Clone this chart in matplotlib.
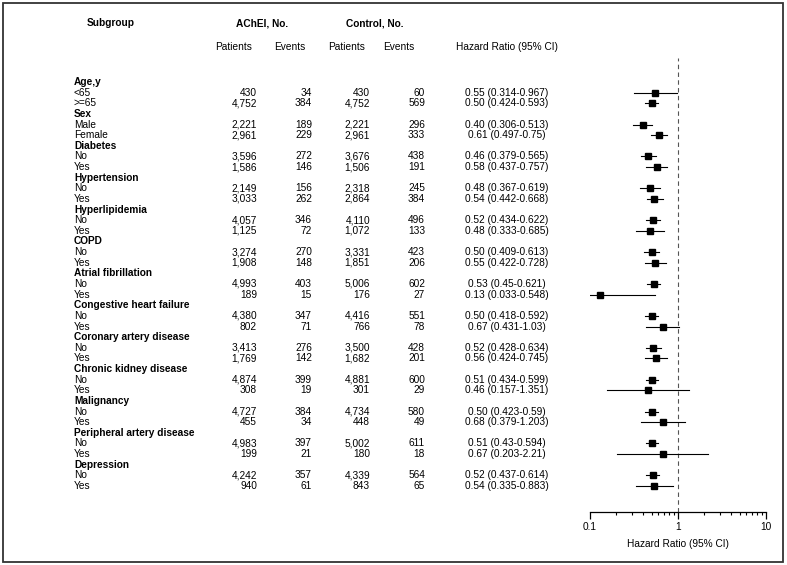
import matplotlib
matplotlib.use('Agg')
import matplotlib.pyplot as plt
from matplotlib.patches import Rectangle
from matplotlib.transforms import blended_transform_factory
from matplotlib.ticker import FixedLocator, LogLocator, NullFormatter

plt.rcParams['font.family'] = ['Liberation Sans', 'DejaVu Sans']

groups = ['Age,y', 'Sex', 'Diabetes', 'Hypertension', 'Hyperlipidemia', 'COPD',
          'Atrial fibrillation', 'Congestive heart failure', 'Coronary artery disease',
          'Chronic kidney disease', 'Malignancy', 'Peripheral artery disease', 'Depression']
levels = [['<65', '>=65'], ['Male', 'Female']] + [['No', 'Yes']] * 11

achei_pat = [430, 4752, 2221, 2961, 3596, 1586, 2149, 3033, 4057, 1125, 3274, 1908, 4993,
             189, 4380, 802, 3413, 1769, 4874, 308, 4727, 455, 4983, 199, 4242, 940]
achei_evt = [34, 384, 189, 229, 272, 146, 156, 262, 346, 72, 270, 148, 403,
             15, 347, 71, 276, 142, 399, 19, 384, 34, 397, 21, 357, 61]
ctrl_pat = [430, 4752, 2221, 2961, 3676, 1506, 2318, 2864, 4110, 1072, 3331, 1851, 5006,
            176, 4416, 766, 3500, 1682, 4881, 301, 4734, 448, 5002, 180, 4339, 843]
ctrl_evt = [60, 569, 296, 333, 438, 191, 245, 384, 496, 133, 423, 206, 602,
            27, 551, 78, 428, 201, 600, 29, 580, 49, 611, 18, 564, 65]
hr = [0.55, 0.50, 0.40, 0.61, 0.46, 0.58, 0.48, 0.54, 0.52, 0.48, 0.50, 0.55, 0.53,
      0.13, 0.50, 0.67, 0.52, 0.56, 0.51, 0.46, 0.50, 0.68, 0.51, 0.67, 0.52, 0.54]
ci_lo = [0.314, 0.424, 0.306, 0.497, 0.379, 0.437, 0.367, 0.442, 0.434, 0.333, 0.409, 0.422, 0.45,
         0.033, 0.418, 0.431, 0.428, 0.424, 0.434, 0.157, 0.423, 0.379, 0.43, 0.203, 0.437, 0.335]
ci_hi = [0.967, 0.593, 0.513, 0.75, 0.565, 0.757, 0.619, 0.668, 0.622, 0.685, 0.613, 0.728, 0.621,
         0.548, 0.592, 1.03, 0.634, 0.745, 0.599, 1.351, 0.59, 1.203, 0.594, 2.21, 0.614, 0.883]

W, H = 787, 565
fig = plt.figure(figsize=(W / 100, H / 100), dpi=100)
fs = 7.3

# border
fig.patches.append(Rectangle((3 / W, 3 / H), 780 / W, 559 / H, transform=fig.transFigure,
                             fill=False, edgecolor='#333333', linewidth=1.3))

# forest axes: x from 0.1 (px 590) to 10 (px 766), y from px 58 to 512
ax = fig.add_axes([590 / W, (H - 512) / H, 176 / W, 454 / H])
ax.set_xscale('log')
ax.set_xlim(0.1, 10)
ax.set_ylim(-40.45, 2.26)
for s in ['left', 'right', 'top']:
    ax.spines[s].set_visible(False)
ax.spines['bottom'].set_linewidth(0.9)
ax.set_yticks([])
ax.xaxis.set_major_locator(FixedLocator([0.1, 1, 10]))
ax.set_xticklabels(['0.1', '1', '10'])
ax.xaxis.set_minor_locator(LogLocator(base=10, subs=range(2, 10)))
ax.xaxis.set_minor_formatter(NullFormatter())
ax.tick_params(axis='x', which='major', length=5, width=0.9, pad=2, labelsize=fs)
ax.tick_params(axis='x', which='minor', length=2.5, width=0.8)
ax.set_xlabel('Hazard Ratio (95% CI)', fontsize=fs, labelpad=5)
ax.axvline(1, color='#555555', linewidth=0.8, linestyle=(0, (4, 3)), zorder=1)

tr = blended_transform_factory(fig.transFigure, ax.transData)

# headers
hy1 = 1 - 23 / H
hy2 = 1 - 47 / H
fig.text(111 / W, hy1, 'Subgroup', ha='center', va='center', fontsize=fs, fontweight='bold')
fig.text(262 / W, hy1, 'AChEI, No.', ha='center', va='center', fontsize=fs, fontweight='bold')
fig.text(375 / W, hy1, 'Control, No.', ha='center', va='center', fontsize=fs, fontweight='bold')
for xp, t in [(234, 'Patients'), (290, 'Events'), (347, 'Patients'), (399, 'Events'),
              (507, 'Hazard Ratio (95% CI)')]:
    fig.text(xp / W, hy2, t, ha='center', va='center', fontsize=fs)

row = 0
k = 0
for g, levs in zip(groups, levels):
    y = -row
    ax.text(74 / W, y, g, transform=tr, ha='left', va='center', fontsize=fs, fontweight='bold')
    row += 1
    for lev in levs:
        y = -row
        ax.text(74 / W, y, lev, transform=tr, ha='left', va='center', fontsize=fs)
        ax.text(257 / W, y, f'{achei_pat[k]:,}', transform=tr, ha='right', va='center', fontsize=fs)
        ax.text(312 / W, y, f'{achei_evt[k]:,}', transform=tr, ha='right', va='center', fontsize=fs)
        ax.text(370 / W, y, f'{ctrl_pat[k]:,}', transform=tr, ha='right', va='center', fontsize=fs)
        ax.text(425 / W, y, f'{ctrl_evt[k]:,}', transform=tr, ha='right', va='center', fontsize=fs)
        ax.text(507 / W, y, f'{hr[k]:.2f} ({ci_lo[k]:g}-{ci_hi[k]:g})', transform=tr,
                ha='center', va='center', fontsize=fs)
        ax.plot([ci_lo[k], ci_hi[k]], [y, y], color='black', linewidth=0.8, zorder=2)
        ax.plot(hr[k], y, marker='s', color='black', markersize=4.2, zorder=3)
        row += 1
        k += 1

fig.savefig('out.png', dpi=100)
